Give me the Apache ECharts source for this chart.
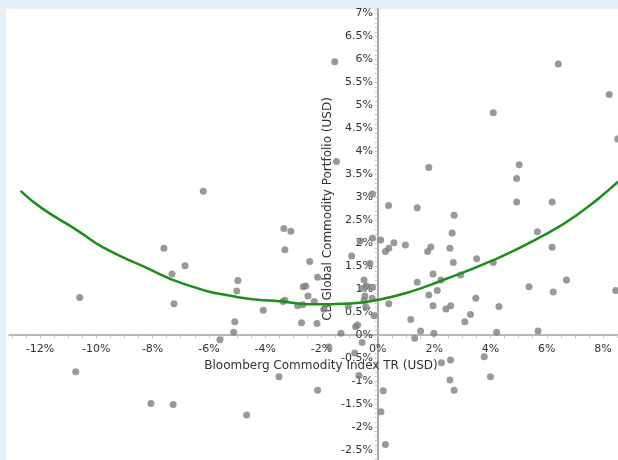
<!DOCTYPE html>
<html>
<head>
<meta charset="utf-8">
<script src="https://cdn.jsdelivr.net/npm/echarts@6/dist/echarts.min.js"></script>
<style>
  html, body { margin: 0; padding: 0; background: #e7f0f9; }
  #panel { position: absolute; left: 6px; top: 9px; width: 612px; height: 451px; background: #fff; }
  #chart { position: absolute; left: 0; top: 0; width: 618px; height: 460px; }
</style>
</head>
<body>
<div id="panel"></div>
<div id="chart"></div>
<script>
// monthly returns, % : index (x) vs portfolio (y)
var indexRet = [
  -10.59, -10.73, -8.06, -7.27, -7.60, -7.31, -6.85, -7.24, -6.20, -5.61,
  -5.12, -5.08, -5.01, -4.97, -4.66, -4.07, -3.51, -3.34, -3.09, -3.30,
  -3.37, -3.30, -2.85, -2.67, -2.71, -2.65, -2.56, -2.48, -2.42, -2.26,
  -2.14, -2.16, -2.14, -1.92, -1.74, -1.53, -1.47, -1.31, -1.05, -0.93,
  -0.79, -0.72, -0.63, -0.49, -0.40, -0.54, -0.19, -0.46, -0.20, -0.49,
  -0.43, -0.13, -0.28, -0.19, -0.19, -0.56, -0.82, -0.67, 0.19, 0.11,
  0.27, 0.10, 0.38, 0.27, 0.39, 0.57, 0.98, 0.39, 1.40, 1.40,
  1.17, 1.52, 1.31, 1.77, 1.88, 1.81, 1.81, 1.96, 1.96, 1.99,
  2.11, 2.24, 2.42, 2.59, 2.56, 2.64, 2.71, 2.68, 2.94, 3.09,
  3.29, 3.48, 3.51, 4.10, 4.10, 4.30, 4.22, 4.93, 5.02, 4.93,
  5.37, 5.67, 5.69, 6.19, 6.19, 6.23, 6.41, 6.70, 8.22, 8.52,
  8.45, 2.26, 2.58, 2.56, 2.71, 3.78, 4.00
];
var portRet = [
  0.82, -0.80, -1.49, -1.51, 1.89, 1.33, 1.51, 0.68, 3.13, -0.10,
  0.06, 0.29, 0.96, 1.19, -1.74, 0.54, -0.91, 2.32, 2.26, 1.86,
  0.73, 0.76, 0.64, 0.66, 0.27, 1.05, 1.07, 0.85, 1.60, 0.73,
  1.26, 0.25, -1.20, 0.56, -0.26, 5.95, 3.78, 0.04, 0.63, 1.72,
  0.18, 0.22, 2.05, 1.20, 1.07, 1.02, 1.04, 0.85, 0.80, 0.76,
  0.62, 0.42, 1.56, 2.11, 3.07, -0.16, -0.39, -0.88, -1.21, -1.67,
  -2.38, 2.07, 2.82, 1.82, 1.89, 2.01, 1.96, 0.68, 2.77, 1.15,
  0.34, 0.09, -0.07, 1.82, 1.92, 3.65, 0.87, 1.33, 0.64, 0.04,
  0.97, 1.20, 0.57, 0.64, 1.89, 2.22, 2.61, 1.58, 1.31, 0.29,
  0.45, 0.80, 1.66, 1.58, 4.84, 0.62, 0.06, 3.41, 3.71, 2.90,
  1.05, 2.25, 0.09, 2.90, 1.91, 0.94, 5.90, 1.20, 5.24, 4.27,
  0.97, -0.60, -0.54, -0.98, -1.20, -0.47, -0.91
];
// fitted curve
var fitX = [-12.69, -11.95, -10.65, -9.76, -8.34, -6.92, -5.02, -3.37, -2.42, -0.99, -0.05, 1.14, 2.32, 4.10, 5.64, 7.06, 8.53];
var fitY = [3.14, 2.77, 2.27, 1.91, 1.50, 1.12, 0.83, 0.73, 0.67, 0.69, 0.76, 0.94, 1.20, 1.63, 2.09, 2.61, 3.34];

var xLabels = [-12, -10, -8, -6, -4, -2, 0, 2, 4, 6, 8];
var yLabels = [-2.5, -2, -1.5, -1, -0.5, 0, 0.5, 1, 1.5, 2, 2.5, 3, 3.5, 4, 4.5, 5, 5.5, 6, 6.5, 7];

var xTicks = [];
for (var i = -26; i <= 17; i++) xTicks.push(i / 2);
var yTicks = [];
for (var j = -27; j <= 71; j++) yTicks.push(j / 10);

var pts = indexRet.map(function (v, k) { return [v, portRet[k]]; });
var fit = fitX.map(function (v, k) { return [v, fitY[k]]; });

// axes cross at zero; place them there with offsets
var W = 618, H = 460, gl = 9, gt = 9;
var xMin = -13.1, xMax = 8.53, yMin = -2.72, yMax = 7.1;
var zeroX = gl + (0 - xMin) / (xMax - xMin) * (W - gl);
var zeroY = gt + (yMax - 0) / (yMax - yMin) * (H - gt);

var font = 'DejaVu Sans';
var chart = echarts.init(document.getElementById('chart'));
chart.setOption({
  animation: false,
  textStyle: { fontFamily: font },
  grid: { left: gl, right: 0, top: gt, bottom: 0, outerBoundsMode: 'none' },
  xAxis: {
    type: 'value',
    min: xMin,
    max: xMax,
    position: 'bottom',
    offset: -(H - zeroY),
    axisLine: { onZero: false, lineStyle: { color: '#a0a0a0', width: 1.5 } },
    axisTick: { show: true, customValues: xTicks, length: 3, lineStyle: { color: '#c4c4c4' } },
    axisLabel: {
      customValues: xLabels, margin: 9, color: '#333', fontSize: 11, fontFamily: font,
      formatter: function (v) { return v + '%'; }
    },
    splitLine: { show: false }
  },
  yAxis: {
    type: 'value',
    min: yMin,
    max: yMax,
    position: 'left',
    offset: -(zeroX - gl),
    axisLine: { onZero: false, lineStyle: { color: '#a8a8a8', width: 2 } },
    axisTick: { show: true, customValues: yTicks, length: 3, lineStyle: { color: '#c4c4c4' } },
    axisLabel: {
      customValues: yLabels, margin: 5, color: '#333', fontSize: 11, fontFamily: font,
      formatter: function (v) { return v + '%'; }
    },
    splitLine: { show: false }
  },
  graphic: [
    {
      type: 'text', x: 321, y: 366, z: 1,
      style: { text: 'Bloomberg Commodity Index TR (USD)', fill: '#333', font: '12px "DejaVu Sans"', align: 'center', verticalAlign: 'middle' }
    },
    {
      type: 'text', x: 328, y: 209, rotation: Math.PI / 2, z: 1,
      style: { text: 'CB Global Commodity Portfolio (USD)', fill: '#333', font: '12px "DejaVu Sans"', align: 'center', verticalAlign: 'middle' }
    }
  ],
  series: [
    {
      type: 'scatter',
      data: pts,
      symbolSize: 7,
      itemStyle: { color: '#7f7f7f' },
      z: 3
    },
    {
      type: 'line',
      data: fit,
      smooth: true,
      symbol: 'none',
      lineStyle: { color: '#1a8f1a', width: 2.5 },
      z: 4
    }
  ]
});
</script>
</body>
</html>
